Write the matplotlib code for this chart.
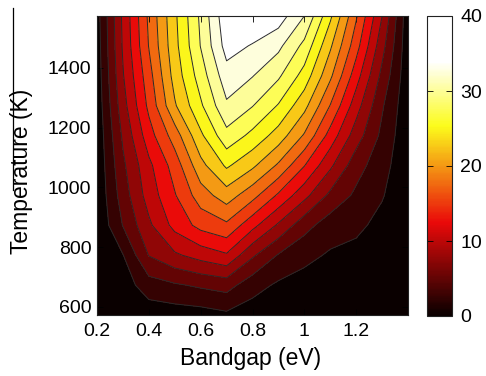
import numpy as np
import matplotlib
matplotlib.use("Agg")
import matplotlib.pyplot as plt
from matplotlib.colors import ListedColormap, Normalize
from matplotlib.cm import ScalarMappable
from matplotlib.lines import Line2D

plt.rcParams['font.family'] = ['Liberation Sans', 'DejaVu Sans']

# ---------------- data ----------------
bandgap = [0.2, 0.3, 0.4, 0.5, 0.6, 0.7, 0.8, 0.9, 1.0, 1.1, 1.2, 1.3, 1.4]
temperature = [573, 673, 773, 873, 973, 1073, 1173, 1273, 1373, 1473, 1573]

eff_573 = [0.1, 0.5, 1.0, 1.2, 1.4, 2.0, 1.2, 0.8, 0.6, 0.4, 0.3, 0.2, 0.1]
eff_673 = [0.15, 1.2, 3.9, 4.7, 5.4, 6.0, 3.5, 2.1, 1.5, 1.0, 0.8, 0.5, 0.1]
eff_773 = [0.25, 2.4, 7.6, 9.6, 11.0, 12.2, 7.9, 4.8, 3.2, 2.2, 1.7, 1.0, 0.2]
eff_873 = [0.35, 5.1, 9.5, 13.3, 15.8, 17.0, 13.3, 9.6, 5.9, 3.7, 3.1, 1.7, 0.3]
eff_973 = [0.5, 6.2, 11.1, 14.8, 18.8, 21.3, 18.4, 14.6, 10.8, 6.9, 4.5, 2.7, 0.4]
eff_1073 = [0.6, 7.0, 11.9, 16.1, 21.7, 25.4, 23.0, 19.6, 15.1, 10.5, 6.0, 3.5, 0.5]
eff_1173 = [0.7, 7.9, 13.9, 18.7, 24.5, 29.2, 26.8, 23.9, 19.7, 14.0, 8.7, 4.4, 0.6]
eff_1273 = [0.9, 9.0, 15.6, 22.2, 27.1, 32.1, 30.1, 27.3, 23.3, 17.4, 11.1, 5.3, 0.7]
eff_1373 = [1.1, 9.8, 16.5, 23.5, 28.7, 34.0, 32.6, 30.4, 26.5, 20.5, 13.6, 6.8, 0.8]
eff_1473 = [1.3, 10.3, 17.6, 24.2, 30.1, 36.0, 34.8, 33.1, 29.3, 22.9, 16.0, 8.4, 0.85]
eff_1573 = [1.5, 10.5, 18.0, 24.5, 30.5, 36.9, 37.3, 36.3, 32.5, 25.5, 17.8, 10.0, 0.9]

levels = np.arange(0, 40.01, 2.5)
xticks = [0.2, 0.4, 0.6, 0.8, 1.0, 1.2]
xticklabels = ['0.2', '0.4', '0.6', '0.8', '1', '1.2']
yticks = [600, 800, 1000, 1200, 1400]
cbar_ticks = [0, 10, 20, 30, 40]

Z = np.array([eff_573, eff_673, eff_773, eff_873, eff_973, eff_1073,
              eff_1173, eff_1273, eff_1373, eff_1473, eff_1573])
X, Y = np.meshgrid(bandgap, temperature)

# MATLAB-like 'hot' colormap (a bit compressed toward white, slightly muted)
hot = plt.get_cmap('hot')
rgba = hot(np.clip(np.linspace(0, 1, 256) / 0.85, 0, 1))
lum = (0.3 * rgba[:, 0] + 0.59 * rgba[:, 1] + 0.11 * rgba[:, 2])[:, None]
rgba[:, :3] = 0.88 * rgba[:, :3] + 0.12 * lum
cmap = ListedColormap(rgba)
norm = Normalize(0, 40)
band_colors = [cmap(norm(lv)) for lv in levels[:-1]]

W, H = 486, 376
fig = plt.figure(figsize=(W / 100, H / 100), dpi=100)
ax = fig.add_axes([97 / W, 61 / H, 311 / W, 299 / H])
cax = fig.add_axes([427 / W, 60 / H, 25 / W, 300 / H])

ax.contourf(X, Y, Z, levels=levels, colors=band_colors)
ax.contour(X, Y, Z, levels=levels[1:-1], colors='#2a2a2a', linewidths=0.7)

ax.set_xlim(0.2, 1.4)
ax.set_ylim(573, 1573)
ax.set_xticks(xticks)
ax.set_xticklabels(xticklabels)
ax.set_yticks(yticks)
ax.tick_params(direction='in', length=4, width=0.6, top=True, right=True,
               labelsize=14)
ax.tick_params(axis='x', pad=6)
ax.tick_params(axis='y', pad=4)
for s in ax.spines.values():
    s.set_linewidth(0.8)
    s.set_color('#222222')

ax.set_xlabel('Bandgap (eV)', fontsize=16.5)
ax.xaxis.set_label_coords(0.493, -0.108)
ax.set_ylabel('Temperature (K)', fontsize=16.5)
ax.yaxis.set_label_coords(-0.205, 0.48)

sm = ScalarMappable(norm=norm, cmap=cmap)
cb = fig.colorbar(sm, cax=cax, ticks=cbar_ticks)
cb.outline.set_linewidth(0.8)
cb.outline.set_edgecolor('#222222')
cax.tick_params(direction='in', length=4, width=0.6, left=True, right=True,
                labelsize=14, pad=6)

fig.add_artist(Line2D([13 / W, 13 / W], [1 - 8 / H, 1 - 190 / H],
                      transform=fig.transFigure, color='black', lw=0.9))

fig.savefig('out.png', dpi=100)
